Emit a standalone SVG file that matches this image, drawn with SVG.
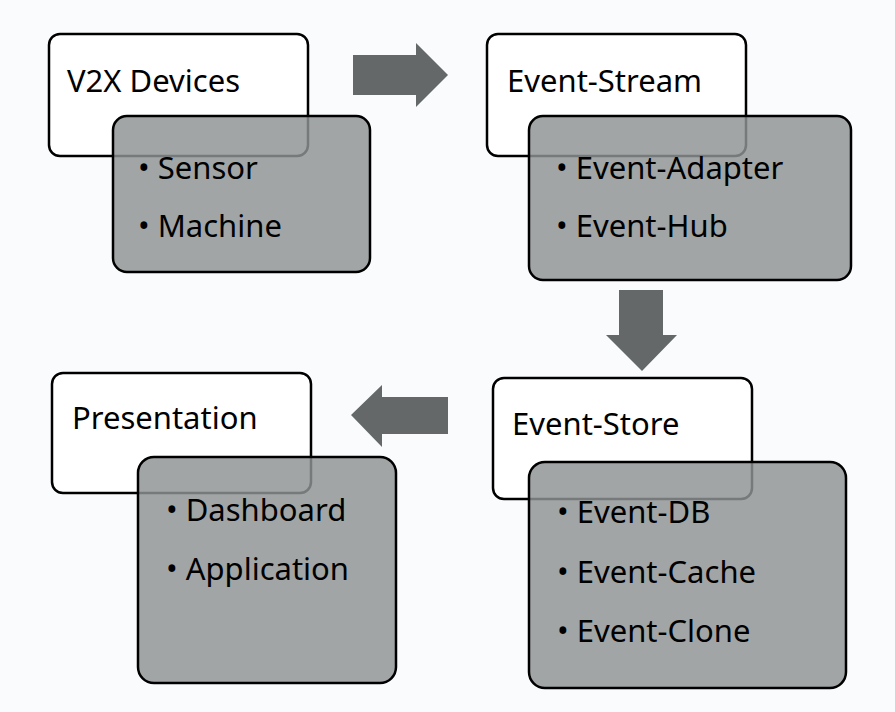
<svg xmlns="http://www.w3.org/2000/svg" width="895" height="712" viewBox="0 0 895 712">
  <style>
    .title { fill: #ffffff; stroke: #000000; stroke-width: 2.5; }
    .body { fill: rgb(143,147,148); fill-opacity: 0.83; stroke: #000000; stroke-width: 2.5; }
    .label { font-family: "Noto Sans", "Open Sans", sans-serif; font-size: 31px; fill: #000000; }
    .arrow { fill: #646868; }
  </style>
  <rect x="0" y="0" width="895" height="712" fill="#f9fbfc"/>

  <g id="connectors">
    <polygon class="arrow" points="353,55 416,55 416,43 448,75 416,107 416,95 353,95"/>
    <polygon class="arrow" points="619,290 663,290 663,335 677,335 642,371 606,335 619,335"/>
    <polygon class="arrow" points="448,397 382,397 382,385 351,415 382,447 382,434 448,434"/>
  </g>

  <g id="v2x-devices">
    <rect class="title" x="49" y="34" width="259" height="122" rx="11"/>
    <text class="label" x="67" y="92">V2X Devices</text>
    <rect class="body" x="113" y="116" width="257" height="156" rx="14"/>
    <text class="label" x="138" y="179">• Sensor</text>
    <text class="label" x="138" y="237">• Machine</text>
  </g>

  <g id="event-stream">
    <rect class="title" x="487" y="34" width="259" height="122" rx="11"/>
    <text class="label" x="507" y="92">Event-Stream</text>
    <rect class="body" x="529" y="116" width="322" height="164" rx="14"/>
    <text class="label" x="556" y="179">• Event-Adapter</text>
    <text class="label" x="556" y="237">• Event-Hub</text>
  </g>

  <g id="event-store">
    <rect class="title" x="493" y="378" width="259" height="121" rx="11"/>
    <text class="label" x="512" y="435">Event-Store</text>
    <rect class="body" x="529" y="462" width="317" height="226" rx="16"/>
    <text class="label" x="557" y="523">• Event-DB</text>
    <text class="label" x="557" y="583">• Event-Cache</text>
    <text class="label" x="557" y="642">• Event-Clone</text>
  </g>

  <g id="presentation">
    <rect class="title" x="52" y="373" width="259" height="120" rx="11"/>
    <text class="label" x="72" y="429">Presentation</text>
    <rect class="body" x="138" y="457" width="258" height="226" rx="16"/>
    <text class="label" x="166" y="521">• Dashboard</text>
    <text class="label" x="166" y="580">• Application</text>
  </g>
</svg>
